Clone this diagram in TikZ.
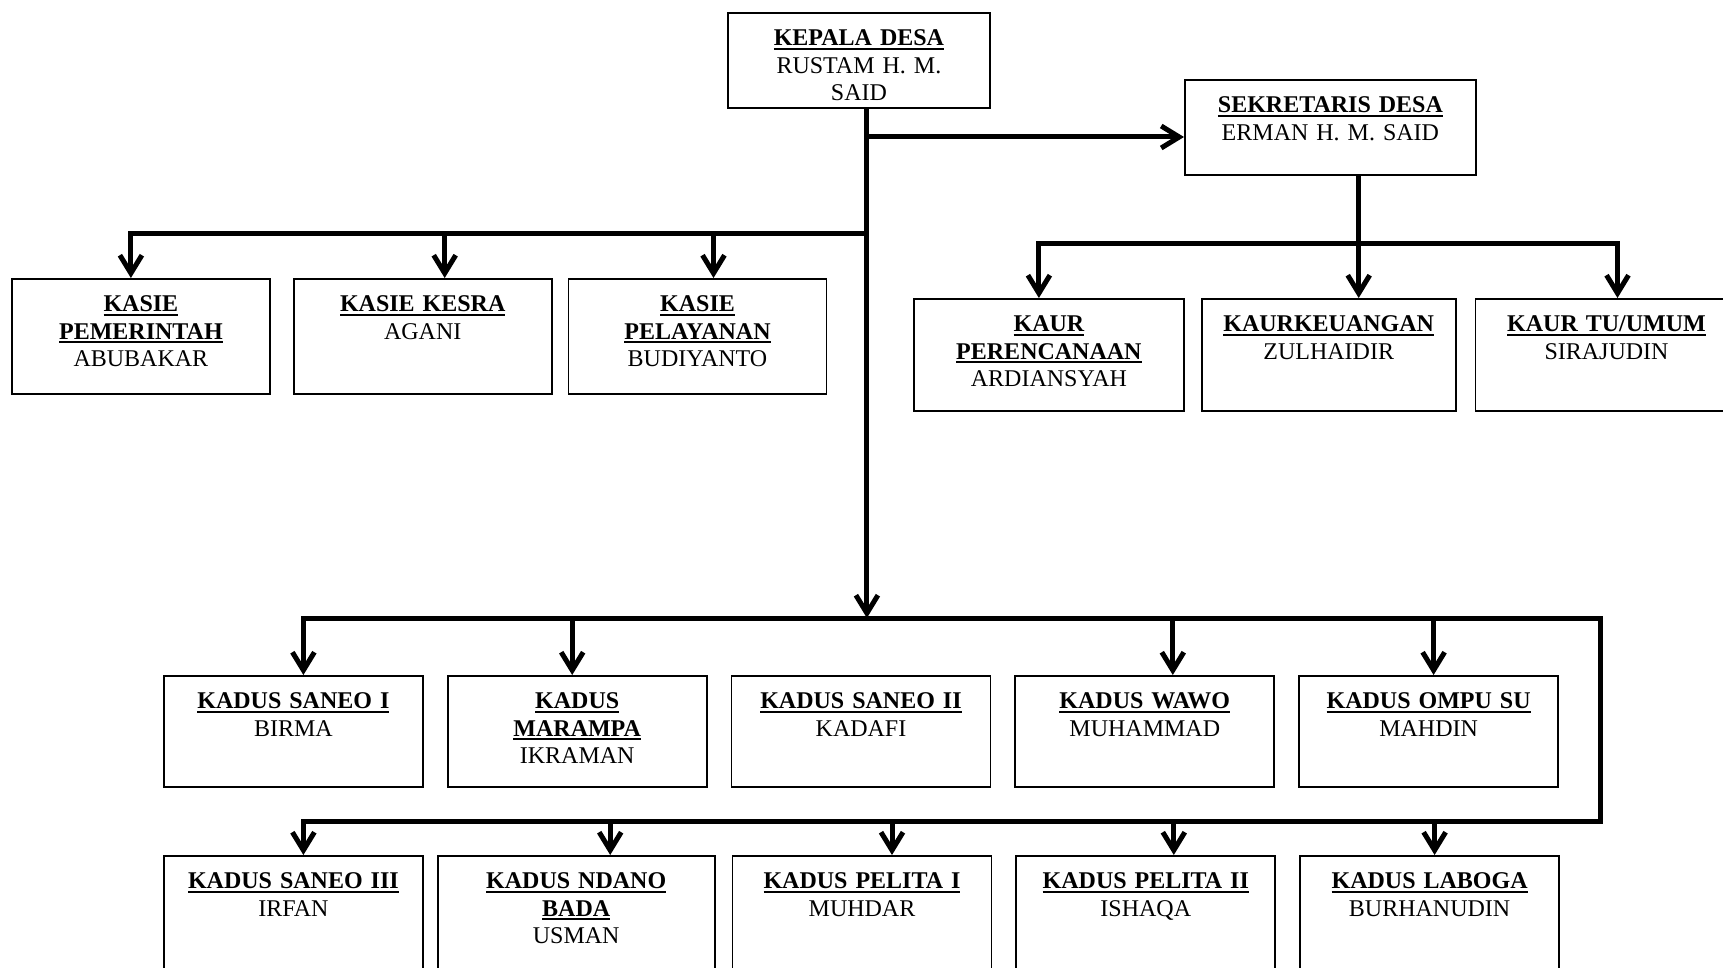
\documentclass[tikz,border=0pt]{standalone}
\usepackage{fontspec}
\setmainfont{Liberation Serif}
\usetikzlibrary{positioning}
\usetikzlibrary{arrows.meta}

\newcommand{\judul}[1]{\leavevmode\vtop{\hbox{\bfseries #1}\kern1.5pt\hrule height 2.2pt}}

\begin{document}
\begin{tikzpicture}[
    x=1pt, y=-1pt,
    kotak/.style = {draw, line width=1.8pt, anchor=north west, align=center, inner sep=0pt,
                    text height=33pt, font=\fontsize{24}{27.5}\selectfont},
    kasie/.style = {kotak, text width=258pt, text depth=82pt},
    kaur/.style = {kotak, text width=254pt, text depth=79pt},
    kadus/.style = {kotak, text width=259pt, text depth=78pt},
    kadus bawah/.style = {kadus, text depth=100pt},
    panah/.style = {line width=5pt, -{Straight Barb[length=18pt, width=22pt]}},
    node distance=23pt
  ]
  \useasboundingbox (0,0) rectangle (1723,968);

  \node[kotak, text width=262pt, text depth=62pt] (kepala) at (727,12) {\judul{KEPALA DESA}\\RUSTAM H. M.\\SAID};
  \node[kotak, text width=291pt, text depth=62pt] (sekdes) at (1184,79) {\judul{SEKRETARIS DESA}\\ERMAN H. M. SAID};

  % kasie
  \node[kasie] (pemerintah) at (11,278) {\judul{KASIE}\\\judul{PEMERINTAH}\\ABUBAKAR};
  \node[kasie, right=22pt of pemerintah] (kesra) {\judul{KASIE KESRA}\\AGANI};
  \node[kasie, right=15pt of kesra] (pelayanan) {\judul{KASIE}\\\judul{PELAYANAN}\\BUDIYANTO};

  % kaur
  \node[kaur, text width=270pt] (perencanaan) at (913,298) {\judul{KAUR}\\\judul{PERENCANAAN}\\ARDIANSYAH};
  \node[kaur, right=16pt of perencanaan] (keuangan) {\judul{KAURKEUANGAN}\\ZULHAIDIR};
  \node[kaur, text width=262pt, right=18pt of keuangan] (tu) {\judul{KAUR TU/UMUM}\\SIRAJUDIN};

  % kadus
  \node[kadus] (saneoI) at (163,675) {\judul{KADUS SANEO I}\\BIRMA};
  \node[kadus, right=of saneoI] (marampa) {\judul{KADUS}\\\judul{MARAMPA}\\IKRAMAN};
  \node[kadus, right=of marampa] (saneoII) {\judul{KADUS SANEO II}\\KADAFI};
  \node[kadus, right=of saneoII] (wawo) {\judul{KADUS WAWO}\\MUHAMMAD};
  \node[kadus, right=of wawo] (ompu) {\judul{KADUS OMPU SU}\\MAHDIN};

  \node[kadus bawah] (saneoIII) at (163,855) {\judul{KADUS SANEO III}\\IRFAN};
  \node[kadus bawah, text width=277pt, right=13pt of saneoIII] (ndano) {\judul{KADUS NDANO}\\\judul{BADA}\\USMAN};
  \node[kadus bawah, right=16pt of ndano] (pelitaI) {\judul{KADUS PELITA I}\\MUHDAR};
  \node[kadus bawah, right=of pelitaI] (pelitaII) {\judul{KADUS PELITA II}\\ISHAQA};
  \node[kadus bawah, right=of pelitaII] (laboga) {\judul{KADUS LABOGA}\\BURHANUDIN};

  \coordinate (batang) at ([xshift=8pt]kepala.south);
  \coordinate (jalurSekdes) at (0,137);
  \coordinate (jalurKasie) at (0,234);
  \coordinate (jalurKaur) at (0,244);
  \coordinate (jalurKadus) at (0,618);
  \coordinate (sudut) at (1600,821);

  \foreach \n/\dx in {pemerintah/-10pt, kesra/22pt, pelayanan/16pt, perencanaan/-10pt, keuangan/30pt, tu/11pt,
                      saneoI/10pt, marampa/-5pt, wawo/28pt, ompu/5pt,
                      saneoIII/10pt, ndano/34pt, pelitaI/30pt, pelitaII/28pt, laboga/5pt}
    \coordinate (\n-in) at ([xshift=\dx]\n.north);

  % kepala desa
  \draw[panah] (batang) -- (batang |- jalurKadus);
  \draw[panah] (batang |- jalurSekdes) -- (sekdes.west |- jalurSekdes);
  \draw[panah] (batang |- jalurKasie) -| (pemerintah-in);
  \foreach \n in {kesra, pelayanan}
    \draw[panah] (\n-in |- jalurKasie) -- (\n-in);

  % sekretaris desa
  \draw[panah] (keuangan-in |- sekdes.south) -- (keuangan-in);
  \draw[panah] (keuangan-in |- jalurKaur) -| (perencanaan-in);
  \draw[panah] (keuangan-in |- jalurKaur) -| (tu-in);

  % kadus
  \draw[panah] (batang |- jalurKadus) -| (saneoI-in);
  \draw[panah] (batang |- jalurKadus) -| (sudut) -| (saneoIII-in);
  \foreach \n in {marampa, wawo, ompu}
    \draw[panah] (\n-in |- jalurKadus) -- (\n-in);
  \foreach \n in {ndano, pelitaI, pelitaII, laboga}
    \draw[panah] (\n-in |- sudut) -- (\n-in);
\end{tikzpicture}
\end{document}
